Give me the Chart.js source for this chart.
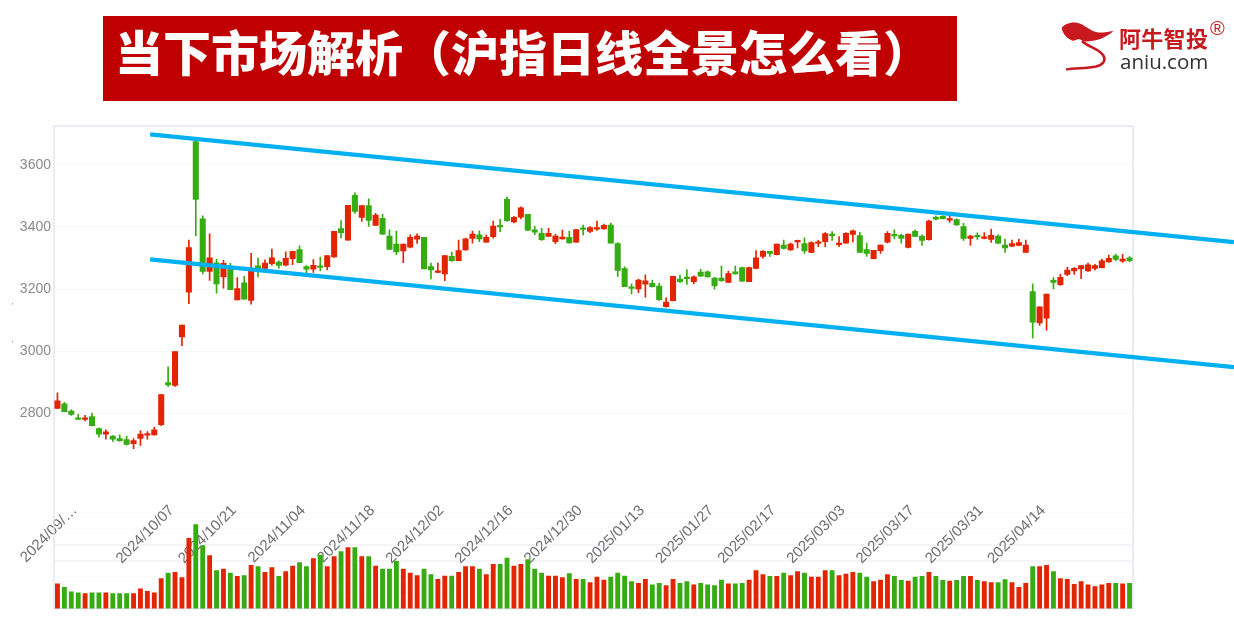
<!DOCTYPE html>
<html lang="zh">
<head>
<meta charset="utf-8">
<title>沪指日线</title>
<script src="https://cdn.jsdelivr.net/npm/chart.js@4/dist/chart.umd.min.js"></script>
<style>
  html, body { margin: 0; padding: 0; background: #fff; }
  #wrap { position: relative; width: 1234px; height: 620px; overflow: hidden; }
  #chart { position: absolute; left: 0; top: 0; }
  #banner {
    position: absolute; left: 103px; top: 16px; width: 854px; height: 85px; background: #c00000;
    color: #fff; font: 900 48px/69px "Noto Sans CJK SC", sans-serif; padding-left: 12px; box-sizing: border-box;
    white-space: nowrap;
  }
  .logo { position: absolute; white-space: nowrap; }
  #logoCn { left: 1119px; top: 22px; font: 700 22px/30px "Noto Sans CJK SC", sans-serif; color: #c8191e; letter-spacing: 0.3px; }
  #logoEn { left: 1120px; top: 48px; font: 400 20.5px/26px "Open Sans", sans-serif; color: #333; }
  #logoR { left: 1210px; top: 16px; font: 400 20px/24px "Liberation Sans", sans-serif; color: #c8191e; }
  #logoMark { position: absolute; left: 1060px; top: 20px; }
  .speck { position: absolute; left: 12px; font: 400 8px/8px "Liberation Sans", sans-serif; color: #777; }
</style>
</head>
<body>
<div id="wrap">
  <canvas id="chart" width="1234" height="620"></canvas>
  <div id="banner">当下市场解析（沪指日线全景怎么看）</div>
  <svg id="logoMark" width="56" height="52" viewBox="0 0 56 52">
    <path d="M1.7 8.3 C3 4 12 1.5 17 2.7 C24 4 30 11 37 12.3 C42 13 48 12 53.3 10.7 C50 15 40 20 33 20.7 C28 21.5 25 21.7 23 21 C21 20 20 19 18.3 19 C16 19.5 15 21 13 20.7 C9 20 3 15 1.7 8.3 Z" fill="#c8191e"/>
    <path d="M22 21 C28 27 38 28 43 35 C47 41 42 45 36 46.5 C27 48.5 16 48 6 49.5" fill="none" stroke="#c8191e" stroke-width="2.6"/>
  </svg>
  <div class="logo" id="logoCn">阿牛智投</div>
  <div class="logo" id="logoEn">aniu.com</div>
  <div class="logo" id="logoR">®</div>
  <div class="speck" style="top:302px">'</div>
  <div class="speck" style="top:340px">'</div>
</div>
<script>
const opens = [
  2816,2831,2808,2785,2781,2790,2751,2733,2727,2719,2716,2703,2720,2730,2731,2764,2899,2890,3046,3190,
  3675,3426,3257,3285,3239,3264,3165,3220,3164,3275,3267,3282,3287,3277,3298,3327,3273,3264,3273,3272,
  3304,3395,3358,3502,3431,3469,3405,3428,3371,3345,3323,3335,3361,3367,3273,3254,3249,3306,3292,3326,
  3363,3375,3351,3369,3402,3489,3416,3432,3441,3391,3380,3370,3353,3362,3367,3351,3394,3386,3393,3394,
  3406,3347,3266,3207,3201,3216,3219,3210,3144,3163,3232,3238,3224,3255,3256,3236,3236,3222,3256,3269,
  3224,3267,3305,3322,3311,3342,3326,3352,3347,3318,3347,3353,3375,3343,3348,3376,3372,3327,3298,3324,
  3351,3375,3373,3334,3386,3371,3359,3431,3434,3422,3424,3401,3363,3372,3363,3360,3371,3342,3338,3341,
  3318,3192,3091,3107,3228,3214,3247,3259,3265,3259,3267,3269,3288,3307,3290,3301
];
const closes = [
  2841,2806,2797,2781,2785,2761,2733,2741,2717,2712,2700,2713,2734,2735,2747,2861,2892,2999,3084,3334,
  3489,3257,3301,3217,3283,3198,3202,3168,3257,3262,3284,3301,3276,3299,3322,3285,3264,3277,3270,3308,
  3386,3382,3470,3450,3469,3421,3438,3377,3328,3320,3345,3367,3371,3265,3262,3258,3308,3292,3324,3362,
  3377,3362,3367,3403,3400,3420,3431,3462,3390,3383,3359,3380,3371,3367,3349,3392,3392,3398,3398,3405,
  3348,3260,3208,3202,3229,3227,3208,3166,3158,3241,3224,3234,3240,3242,3239,3210,3227,3250,3249,3226,
  3269,3301,3322,3315,3345,3331,3345,3356,3323,3350,3351,3379,3372,3346,3380,3388,3318,3315,3325,3342,
  3380,3371,3363,3377,3370,3357,3419,3425,3427,3426,3407,3363,3371,3368,3367,3373,3348,3333,3347,3350,
  3342,3094,3143,3184,3222,3238,3261,3267,3276,3278,3276,3291,3299,3296,3297,3292
];
const highs = [
  2866,2836,2812,2797,2794,2801,2754,2747,2729,2731,2726,2719,2745,2742,2756,2861,2950,2999,3084,3358,
  3675,3436,3378,3297,3293,3283,3237,3241,3315,3300,3294,3329,3291,3320,3322,3339,3276,3295,3303,3308,
  3386,3421,3470,3510,3469,3491,3444,3441,3391,3387,3345,3375,3378,3367,3284,3284,3308,3319,3358,3364,
  3387,3388,3375,3419,3425,3496,3434,3465,3441,3402,3396,3396,3376,3390,3386,3392,3406,3401,3419,3409,
  3413,3350,3272,3217,3232,3246,3229,3219,3172,3241,3245,3263,3243,3264,3259,3238,3274,3258,3274,3271,
  3271,3324,3324,3322,3345,3358,3348,3358,3365,3353,3357,3382,3385,3369,3382,3390,3383,3348,3325,3342,
  3385,3391,3377,3377,3391,3375,3422,3436,3436,3436,3426,3412,3373,3381,3382,3393,3375,3361,3358,3361,
  3358,3217,3143,3184,3237,3248,3271,3269,3276,3284,3280,3297,3310,3313,3312,3305
];
const lows = [
  2816,2806,2794,2781,2776,2760,2724,2717,2710,2710,2698,2687,2697,2717,2730,2761,2887,2887,3018,3153,
  3372,3249,3228,3187,3203,3198,3165,3168,3152,3239,3262,3277,3267,3275,3279,3285,3252,3254,3259,3263,
  3302,3365,3358,3444,3418,3402,3405,3376,3328,3311,3285,3333,3347,3265,3233,3253,3227,3289,3292,3325,
  3348,3353,3350,3364,3385,3418,3413,3426,3388,3375,3357,3369,3346,3361,3348,3350,3374,3382,3389,3393,
  3348,3241,3208,3185,3189,3174,3206,3164,3142,3162,3222,3215,3217,3241,3239,3200,3225,3221,3248,3224,
  3224,3265,3300,3305,3310,3329,3325,3333,3315,3317,3337,3337,3357,3337,3348,3352,3318,3305,3297,3315,
  3349,3362,3348,3333,3369,3341,3358,3423,3426,3415,3405,3357,3341,3360,3362,3350,3346,3318,3337,3340,
  3318,3042,3083,3068,3201,3212,3243,3247,3234,3257,3261,3268,3286,3292,3286,3288
];
// volumes, in chart units
const volumes = [
  740,640,500,470,450,470,470,470,450,450,450,450,590,520,470,900,1070,1090,930,2110,
  2520,1890,1590,1140,1190,1070,970,990,1300,1260,1090,1230,970,1110,1280,1380,1260,1500,1610,1260,
  1560,1710,1830,1830,1560,1560,1280,1190,1190,1420,1190,1070,990,1190,1020,880,980,980,1090,1260,
  1260,1190,1020,1330,1330,1520,1280,1330,1470,1190,1070,980,980,930,1050,880,880,780,950,860,
  950,1070,980,810,760,880,710,760,690,880,760,810,710,760,710,690,860,740,740,760,
  860,1140,1020,970,970,1070,990,1110,1070,950,950,1140,1140,990,1040,1090,1070,950,810,860,
  1020,970,850,830,950,970,1090,970,850,830,850,970,970,850,810,780,780,870,780,640,
  760,1260,1260,1300,1110,900,880,730,810,710,660,710,760,760,740,760
];
const priceTicks = [2800, 3000, 3200, 3400, 3600];
const volumeGrid = [480, 960, 1440, 1920, 2400, 2880];
const dateTicks = [
  [6,'2024/09/…'],[20,'2024/10/07'],[29,'2024/10/21'],[39,'2024/11/04'],[49,'2024/11/18'],
  [59,'2024/12/02'],[69,'2024/12/16'],[79,'2024/12/30'],[88,'2025/01/13'],[98,'2025/01/27'],
  [107,'2025/02/17'],[117,'2025/03/03'],[127,'2025/03/17'],[137,'2025/03/31'],[146,'2025/04/14']
];
// channel lines, they run past the plot on the right
const channelTop = [{ x: 13.4, y: 3698 }, { x: 170.1, y: 3351 }];
const channelBottom = [{ x: 13.4, y: 3296 }, { x: 170.1, y: 2949 }];

const UP = '#e32400', DOWN = '#37ab12', CHANNEL = '#00b0f0', FRAME = '#dbe3f4';
const labels = opens.map((_, i) => i);
const tickText = new Map(dateTicks);
const candleColor = c => closes[c.dataIndex] >= opens[c.dataIndex] ? UP : DOWN;
const isWideGrid = v => v === 1440 || v === 1920;

const plotFrame = {
  id: 'plotFrame',
  beforeDatasetsDraw(chart) {
    const { ctx, chartArea: a } = chart;
    ctx.save();
    ctx.strokeStyle = FRAME;
    ctx.lineWidth = 1.3;
    ctx.strokeRect(a.left, a.top, a.right - a.left, a.bottom - a.top);
    ctx.restore();
  }
};

new Chart(document.getElementById('chart'), {
  type: 'bar',
  data: {
    labels,
    datasets: [
      { label: '通道上轨', type: 'line', data: channelTop, xAxisID: 'xLine', yAxisID: 'y', borderColor: CHANNEL, borderWidth: 4.2, pointRadius: 0, clip: false, order: 0 },
      { label: '通道下轨', type: 'line', data: channelBottom, xAxisID: 'xLine', yAxisID: 'y', borderColor: CHANNEL, borderWidth: 4.2, pointRadius: 0, clip: false, order: 0 },
      { label: '实体', data: opens.map((o, i) => [o, closes[i]]), yAxisID: 'y', backgroundColor: candleColor, barThickness: 5.4, minBarLength: 1.6, order: 2 },
      { label: '影线', data: lows.map((l, i) => [l, highs[i]]), yAxisID: 'y', backgroundColor: candleColor, barThickness: 1, order: 3 },
      { label: '成交量', data: volumes, yAxisID: 'yVol', backgroundColor: candleColor, barThickness: 4.2, order: 4 }
    ]
  },
  options: {
    responsive: false,
    animation: false,
    events: [],
    layout: { padding: { left: 0, top: 126, right: 101, bottom: 11 } },
    plugins: { legend: { display: false }, tooltip: { enabled: false } },
    datasets: { bar: { grouped: false } },
    scales: {
      x: {
        position: { yVol: 3450 },
        offset: true,
        z: 1,
        grid: { display: false },
        border: { display: false },
        afterFit: s => { s.height = 0; s.paddingLeft = 0; s.paddingRight = 0; },
        ticks: {
          autoSkip: false, minRotation: 45, maxRotation: 45, labelOffset: -24, padding: 0,
          color: '#6f6f6f', font: { family: '"Liberation Sans", sans-serif', size: 15 },
          callback: v => tickText.get(v) || ''
        }
      },
      xLine: { type: 'linear', display: false, offset: false, min: -0.5, max: 155.5 },
      y: {
        position: 'left',
        min: 2172, max: 3725,
        afterBuildTicks: s => { s.ticks = priceTicks.map(value => ({ value })); },
        afterFit: s => { s.width = 54; },
        grid: { color: '#f7f7f7', drawTicks: false },
        border: { display: false },
        ticks: {
          color: '#8a8a8a', padding: 3, font: { family: '"Liberation Sans", sans-serif', size: 14 },
          callback: v => String(v)
        }
      },
      yVol: {
        display: true,
        min: 0, max: 14490,
        afterBuildTicks: s => { s.ticks = volumeGrid.map(value => ({ value })); },
        afterFit: s => { s.width = 0; },
        grid: {
          drawTicks: false,
          color: c => isWideGrid(c.tick.value) ? '#f5f5f9' : '#fafafa',
          lineWidth: c => isWideGrid(c.tick.value) ? 2 : 1
        },
        border: { display: false },
        ticks: { display: false }
      }
    }
  },
  plugins: [plotFrame]
});
</script>
</body>
</html>
